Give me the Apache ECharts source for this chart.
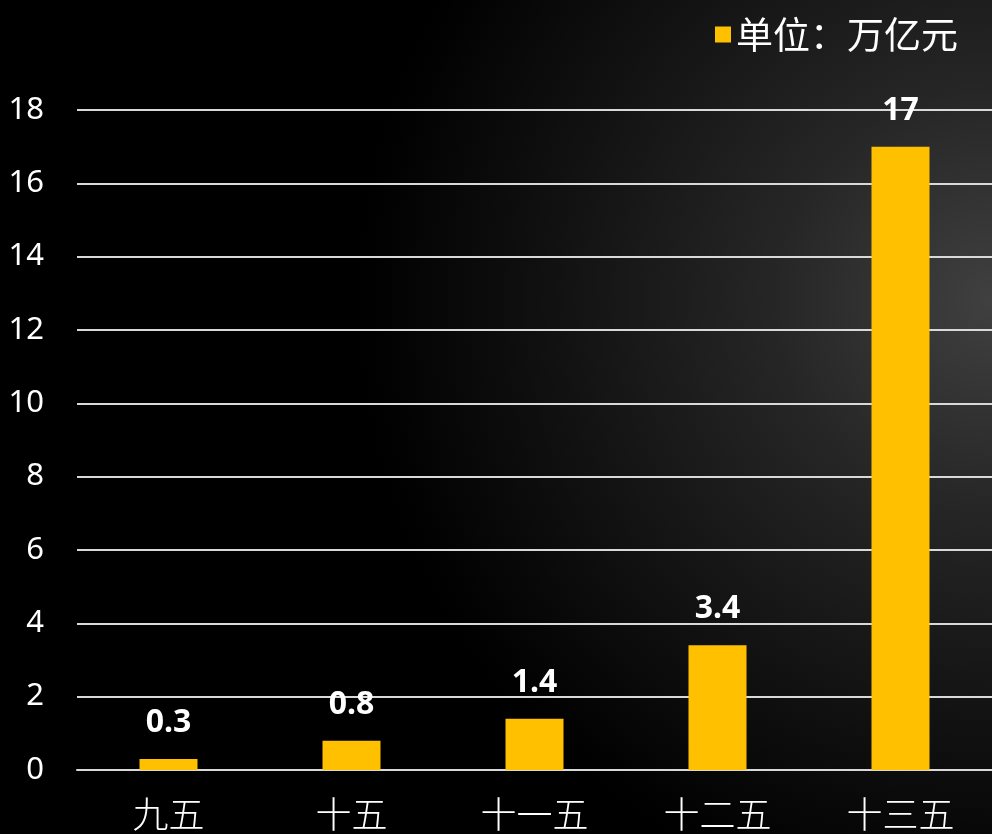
<!DOCTYPE html>
<html>
<head>
<meta charset="utf-8">
<script src="https://cdn.jsdelivr.net/npm/echarts@6/dist/echarts.min.js"></script>
<style>
html,body{margin:0;padding:0;width:992px;height:834px;overflow:hidden;}
body{background:radial-gradient(ellipse 720px 700px at 100% 36%, #404040 0%, #262626 30%, #121212 60%, #000 88%);}
#c{width:992px;height:834px;}
</style>
</head>
<body>
<div id="c"></div>
<script>
const categories = ['九五', '十五', '十一五', '十二五', '十三五'];
const values = [0.3, 0.8, 1.4, 3.4, 17];
const seriesName = '单位：万亿元';
const yTicks = { min: 0, max: 18, interval: 2 };

const chart = echarts.init(document.getElementById('c'));
chart.setOption({
  backgroundColor: 'transparent',
  animation: false,
  textStyle: { fontFamily: 'Noto Sans, Noto Sans CJK SC' },
  legend: {
    data: [seriesName],
    right: 29,
    top: 11,
    icon: 'rect',
    itemWidth: 16,
    itemHeight: 16,
    itemGap: 10,
    textStyle: { color: '#fff', fontSize: 37, fontFamily: 'Noto Sans CJK SC' }
  },
  grid: { left: 77, right: 0, top: 110, bottom: 64, containLabel: false },
  xAxis: {
    type: 'category',
    data: categories,
    axisLine: { show: true, lineStyle: { color: '#d9d9d9', width: 2 } },
    axisTick: { show: false },
    axisLabel: { color: '#fff', fontSize: 36, margin: 26, fontFamily: 'Noto Sans CJK SC', fontWeight: 300 }
  },
  yAxis: {
    type: 'value',
    min: yTicks.min,
    max: yTicks.max,
    interval: yTicks.interval,
    axisLine: { show: false },
    axisTick: { show: false },
    axisLabel: { color: '#fff', fontSize: 31, margin: 33 },
    splitLine: { lineStyle: { color: '#d9d9d9', width: 2 } }
  },
  series: [{
    name: seriesName,
    type: 'bar',
    data: values,
    barWidth: 58,
    itemStyle: { color: '#FFC000' },
    label: {
      show: true,
      position: 'top',
      distance: 20,
      color: '#fff',
      fontSize: 32,
      fontWeight: 'bold'
    }
  }]
});
</script>
</body>
</html>
